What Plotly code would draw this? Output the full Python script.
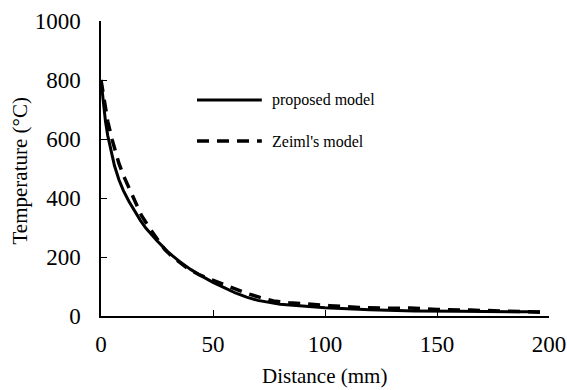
import plotly.graph_objects as go

# Data
proposed_x = [0, 1, 2, 3, 4.5, 6, 8, 10, 12.5, 15, 17.5, 20, 22.5, 25, 27.5, 30, 35, 40, 45, 50, 55, 60, 65, 70, 80, 90, 100, 120, 140, 160, 180, 196]
proposed_y = [800, 720, 660, 612, 555, 510, 462, 425, 388, 355, 325, 298, 275, 255, 236, 216, 185, 158, 135, 114, 96, 78, 64, 53, 40, 33, 28, 21, 17, 16, 15, 14]

zeiml_x = [0, 1, 2, 3, 5, 8, 10.5, 13, 15.5, 18, 21.5, 25, 28.5, 32, 38, 44, 50, 55, 60, 65, 71, 77, 84, 90, 102, 115, 128, 138, 150, 165, 180, 196]
zeiml_y = [800, 748, 700, 660, 597, 517, 468, 427, 382, 342, 300, 262, 225, 200, 165, 139, 122, 105, 92, 77, 63, 51, 45, 41, 35, 29, 26, 27, 22, 20, 16, 13]

series_names = ["proposed model", "Zeiml's model"]
x_ticks = [0, 50, 100, 150, 200]
y_ticks = [0, 200, 400, 600, 800, 1000]
x_title = "Distance (mm)"
y_title = "Temperature (°C)"

FONT = "Liberation Serif, Times New Roman, serif"
DASH = "12px,8px"

fig = go.Figure()
fig.add_trace(go.Scatter(x=proposed_x, y=proposed_y, mode="lines", name=series_names[0],
                         line=dict(color="black", width=3), showlegend=False))
fig.add_trace(go.Scatter(x=zeiml_x, y=zeiml_y, mode="lines", name=series_names[1],
                         line=dict(color="black", width=3.5, dash=DASH), showlegend=False))

# Custom legend (line samples + labels)
legend_rows = [(0.732, "solid", 3), (0.593, DASH, 3.5)]
for (yy, dash, w), name in zip(legend_rows, series_names):
    fig.add_shape(type="line", xref="paper", yref="paper", x0=0.2143, x1=0.359, y0=yy, y1=yy,
                  line=dict(color="black", width=w, dash=dash))
    fig.add_annotation(xref="paper", yref="paper", x=0.377, y=yy, text=name, showarrow=False,
                       xanchor="left", yanchor="middle", font=dict(family=FONT, size=16, color="black"))

# Axis titles
fig.add_annotation(xref="paper", yref="paper", x=0.499, y=-0.205, text=x_title, showarrow=False,
                   xanchor="center", yanchor="middle", font=dict(family=FONT, size=21, color="black"))
fig.add_annotation(xref="paper", yref="paper", x=-0.1797, y=0.4915, text=y_title, showarrow=False,
                   textangle=-90, xanchor="center", yanchor="middle",
                   font=dict(family=FONT, size=21, color="black"))

axis_common = dict(showline=True, linecolor="black", linewidth=1.5, ticks="inside", ticklen=6,
                   tickwidth=1.2, tickcolor="black", showgrid=False, zeroline=False, automargin=False,
                   tickfont=dict(family=FONT, size=23, color="black"))

fig.update_xaxes(range=[0, 200], tickvals=x_ticks, ticktext=[str(v) for v in x_ticks],
                 ticklabelstandoff=7, **axis_common)
fig.update_yaxes(range=[0, 1000], tickvals=y_ticks, ticktext=[str(v) for v in y_ticks],
                 ticklabelstandoff=14, **axis_common)

fig.update_layout(width=567, height=390, margin=dict(l=101, r=18, t=21, b=74),
                  font=dict(family=FONT, color="black"),
                  plot_bgcolor="white", paper_bgcolor="white", showlegend=False)

fig.write_html("out.html")
